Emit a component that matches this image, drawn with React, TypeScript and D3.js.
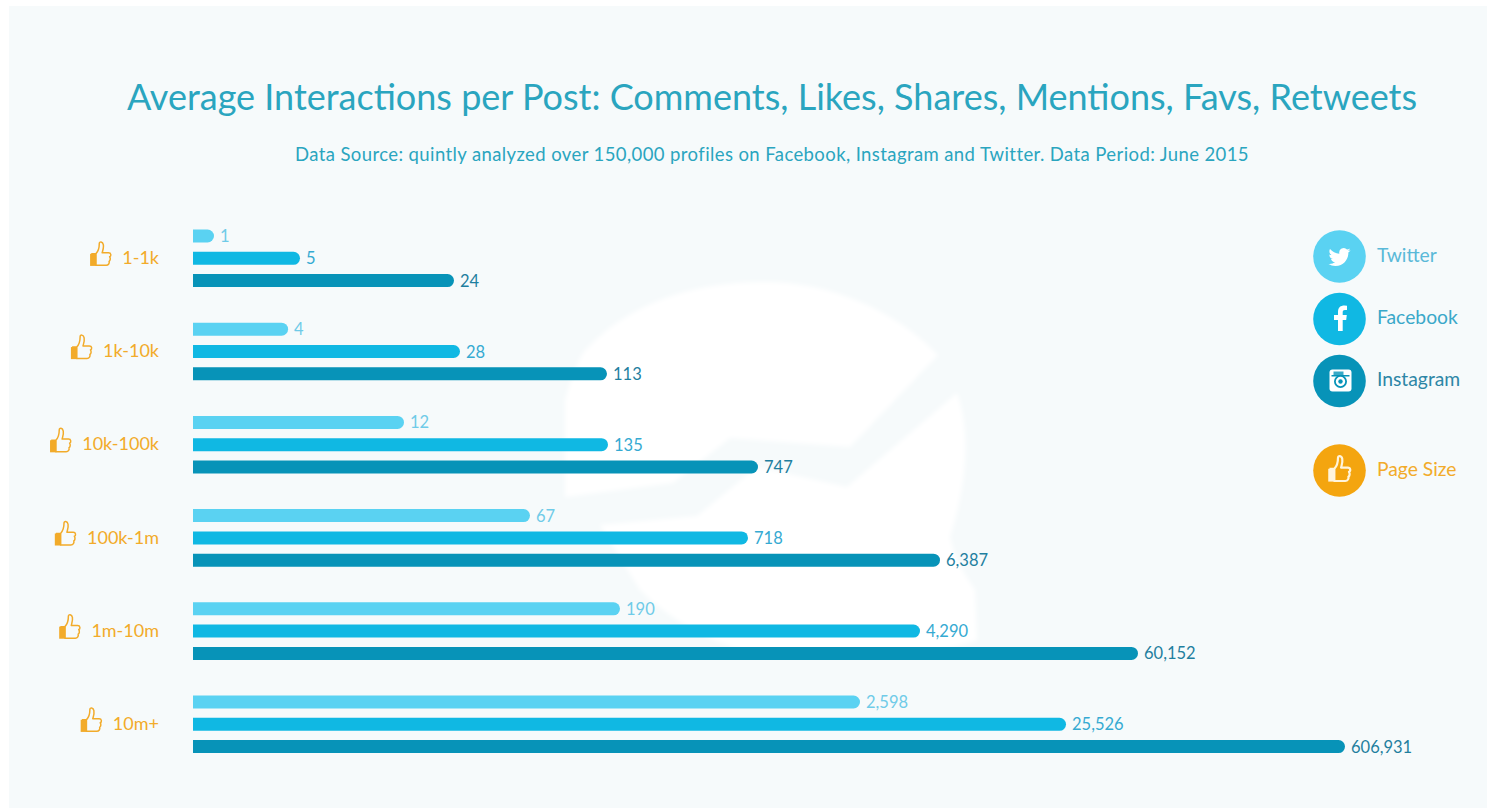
import React from "react";
import * as d3 from "d3";

const tiers = ["1-1k", "1k-10k", "10k-100k", "100k-1m", "1m-10m", "10m+"];
const twitter = [1, 4, 12, 67, 190, 2598];
const facebook = [5, 28, 135, 718, 4290, 25526];
const instagram = [24, 113, 747, 6387, 60152, 606931];
const networks = ["Twitter", "Facebook", "Instagram"];
const networkColors = ["#5ad2f2", "#10b8e3", "#0793b8"];
const valueColors = ["#6fcbe8", "#35aad2", "#1f7f9f"];
const legendColors = ["#5ab9d8", "#3aa8c9", "#2d86a6"];

// The bar lengths follow a hand-tuned logarithmic axis, so the log scale is polylinear.
const axisKnots = [1, 5, 12, 24, 28, 67, 113, 135, 190, 718, 747, 2598, 4290, 6387, 25526, 60152, 606931];
const axisStops = [214, 300, 404, 454, 460, 530, 607, 608, 620, 748, 758, 860, 920, 940, 1066, 1138, 1345];

const FONT = "Lato, 'Open Sans', sans-serif";
const ORANGE = "#f4a50f";
const ORANGE_TEXT = "#f2ab2a";
const TITLE = "#2aa5bf";
const TIER_FONT_SIZE = 18;
const BAR_LEFT = 193;
const BAR_H = 13;

const x = d3.scaleLog().domain(axisKnots).range(axisStops);
const rowY = d3.scalePoint().domain(tiers).range([236, 702]);
const barY = d3.scalePoint().domain(networks).range([0, 44.6]);
const fmt = d3.format(",");

// Width of a tier label, used to place its thumb just to the left of the text.
const measure = (() => {
  const ctx = document.createElement("canvas").getContext("2d")!;
  ctx.font = `${TIER_FONT_SIZE}px Lato`;
  return (s: string) => ctx.measureText(s).width;
})();

const THUMB = "M-7 -1 L-3 -1 C-1 -3 0 -6 0 -10 C0 -12 3 -12 3.5 -9 C4 -6 3 -4 2.5 -2 L8 -2 C10.5 -2 10.5 1 9 1.5 C10 3 9.5 5 8.5 5.5 C9 7 8 9 6 9 L-3 9 L-3 -1";
const BIRD = "M23.95 4.57a10 10 0 0 1-2.82.77 4.96 4.96 0 0 0 2.16-2.72c-.95.55-2 .96-3.12 1.19a4.92 4.92 0 0 0-8.38 4.48C7.69 8.1 4.07 6.13 1.64 3.16a4.82 4.82 0 0 0-.67 2.48c0 1.71.87 3.21 2.19 4.1a4.9 4.9 0 0 1-2.23-.61v.06a4.92 4.92 0 0 0 3.95 4.83 4.99 4.99 0 0 1-2.21.08 4.93 4.93 0 0 0 4.6 3.42A9.87 9.87 0 0 1 0 19.54a14 14 0 0 0 7.56 2.21c9.05 0 14-7.5 14-13.98 0-.21 0-.42-.02-.63a9.94 9.94 0 0 0 2.46-2.55z";
const LETTER_F = "M-2 13 V2 H-6 V-3 H-2 V-6 C-2 -10.5 .5 -12.5 4.5 -12.5 L7 -12.3 V-8 H5 C3 -8 2.7 -7 2.7 -5.5 V-3 H6.8 L6.2 2 H2.7 V13 Z";

function Thumb({ tx, ty, color, scale, width }: { tx: number; ty: number; color: string; scale: number; width: number }) {
  return (
    <g transform={`translate(${tx},${ty}) scale(${scale})`}>
      <rect x={-8} y={-1} width={5.5} height={10.5} fill={color} />
      <path d={THUMB} fill="none" stroke={color} strokeWidth={width} strokeLinejoin="round" />
    </g>
  );
}

function CameraIcon({ cx, cy, ink }: { cx: number; cy: number; ink: string }) {
  return (
    <g transform={`translate(${cx},${cy})`}>
      <rect x={-11} y={-11} width={22} height={22} rx={3} fill="#ffffff" />
      <rect x={-9} y={-5.5} width={18} height={1.5} fill={ink} />
      <rect x={-7} y={-9} width={10} height={3.5} fill={ink} opacity={0.8} />
      <circle cx={0} cy={1} r={5.6} fill="#ffffff" stroke={ink} strokeWidth={1.8} />
      <circle cx={0} cy={1} r={2.2} fill={ink} />
    </g>
  );
}

// Pale emblem behind the bars.
function Emblem() {
  return (
    <g fill="#ffffff" filter="url(#soft)">
      <path d="M565 497 L565 400 C572 375 578 362 583 353 C625 305 690 282 765 282 C830 282 895 310 938 355 L850 447 L730 438 L673 483 Z" />
      <path d="M957 393 C970 430 968 480 950 537 C955 560 965 575 975 590 L977 640 C940 655 850 660 770 655 C720 650 670 620 640 590 L600 525 L697 516 L757 467 L847 487 Z" />
    </g>
  );
}

export default function App() {
  const series = [twitter, facebook, instagram];
  const legendY = [256.5, 319, 381];
  const legendTextY = [262, 324, 386];
  return (
    <svg width={1487} height={809} style={{ position: "absolute", left: 0, top: 0 }} fontFamily={FONT}>
      <defs>
        <filter id="soft" x="-5%" y="-5%" width="110%" height="110%">
          <feGaussianBlur stdDeviation={2} />
        </filter>
      </defs>
      <rect width={1487} height={809} fill="#ffffff" />
      <rect x={9} y={6} width={1478} height={802} fill="#f6fafb" />
      <Emblem />
      <text x={772} y={110} textAnchor="middle" fontSize={36} fill={TITLE}>
        Average Interactions per Post: Comments, Likes, Shares, Mentions, Favs, Retweets
      </text>
      <text x={772} y={161} textAnchor="middle" fontSize={18.5} letterSpacing={0.4} fill={TITLE}>
        Data Source: quintly analyzed over 150,000 profiles on Facebook, Instagram and Twitter. Data Period: June 2015
      </text>
      {tiers.map((tier, i) => {
        const top = rowY(tier)!;
        const left = 159 - measure(tier);
        return (
          <g key={tier}>
            <Thumb tx={left - 23} ty={top + 19} color={ORANGE_TEXT} scale={1.15} width={1.3} />
            <text x={159} y={top + 28} textAnchor="end" fontSize={TIER_FONT_SIZE} fill={ORANGE_TEXT}>{tier}</text>
            {series.map((values, s) => {
              const y = top + barY(networks[s])!;
              const end = x(values[i]);
              const r = BAR_H / 2;
              return (
                <g key={s}>
                  <path
                    d={`M${BAR_LEFT} ${y - r} H${end - r} A${r} ${r} 0 0 1 ${end - r} ${y + r} H${BAR_LEFT} Z`}
                    fill={networkColors[s]}
                  />
                  <text x={end + 6} y={y + 6} fontSize={16.5} fill={valueColors[s]}>{fmt(values[i])}</text>
                </g>
              );
            })}
          </g>
        );
      })}
      {networks.map((n, i) => (
        <g key={n}>
          <circle cx={1339.5} cy={legendY[i]} r={26.3} fill={networkColors[i]} />
          <text x={1377} y={legendTextY[i]} fontSize={19.3} fill={legendColors[i]}>{n}</text>
        </g>
      ))}
      <path d={BIRD} transform="translate(1328.5,246) scale(0.92)" fill="#ffffff" />
      <path d={LETTER_F} transform="translate(1340,318)" fill="#ffffff" />
      <CameraIcon cx={1340.5} cy={380.5} ink={networkColors[2]} />
      <circle cx={1339.5} cy={470.5} r={26.3} fill={ORANGE} />
      <Thumb tx={1338} ty={470} color="#fff4dc" scale={1.22} width={1.8} />
      <text x={1377} y={476} fontSize={19.3} fill={ORANGE_TEXT}>Page Size</text>
    </svg>
  );
}
